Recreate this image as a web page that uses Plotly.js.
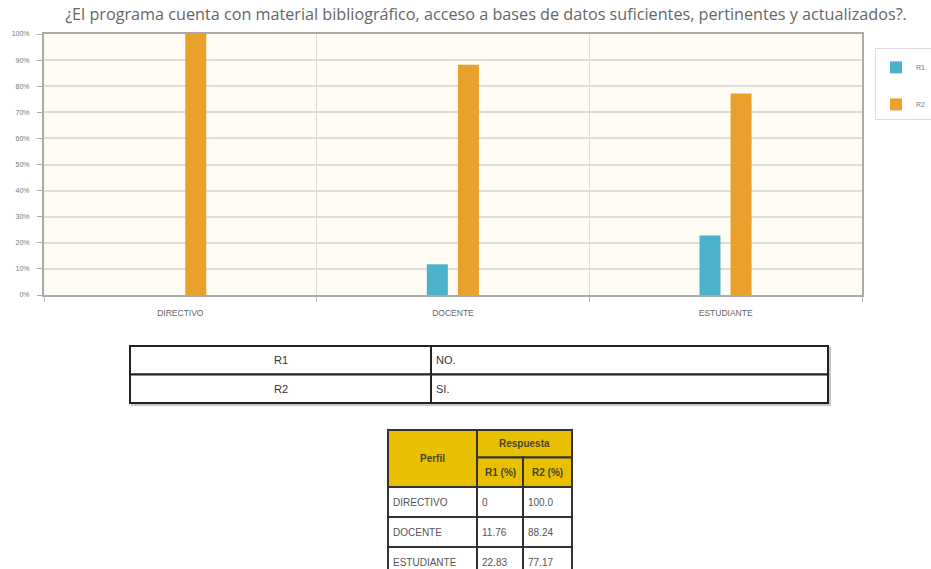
<!DOCTYPE html>
<html>
<head>
<meta charset="utf-8">
<script src="https://cdn.plot.ly/plotly-3.0.1.min.js"></script>
<style>
  html, body { margin: 0; padding: 0; background: #fff; }
  #chart { width: 931px; height: 569px; }
</style>
</head>
<body>
<div id="chart"></div>
<script>
// ---------- data ----------
const chartTitle = '¿El programa cuenta con material bibliográfico, acceso a bases de datos suficientes, pertinentes y actualizados?.';
const categories = ['DIRECTIVO', 'DOCENTE', 'ESTUDIANTE'];
const seriesNames = ['R1', 'R2'];
const r1Values = [0, 11.76, 22.83];
const r2Values = [100.0, 88.24, 77.17];
const r1Labels = ['0', '11.76', '22.83'];
const r2Labels = ['100.0', '88.24', '77.17'];
const codeMeanings = ['NO.', 'SI.'];
const tableHeaders = ['Perfil', 'Respuesta', 'R1 (%)', 'R2 (%)'];

// ---------- helpers (pixel -> paper; paper = plot area) ----------
const W = 931, H = 569;
const M = { l: 44, r: 69, t: 34, b: 274 };
const PW = W - M.l - M.r, PH = H - M.t - M.b;
const px = x => (x - M.l) / PW;
const py = y => (H - M.b - y) / PH;

const shapes = [];
const annotations = [];

function rect(x0, y0, x1, y1, fill, lineColor, lineWidth) {
  shapes.push({
    type: 'rect', xref: 'paper', yref: 'paper',
    x0: px(x0), x1: px(x1), y0: py(y1), y1: py(y0),
    fillcolor: fill, line: { color: lineColor, width: lineWidth }, layer: 'above'
  });
}
function text(str, x, y, anchor, font) {
  annotations.push({
    xref: 'paper', yref: 'paper', x: px(x), y: py(y),
    xanchor: anchor, yanchor: 'middle', showarrow: false, text: str,
    font: font
  });
}

// ---------- code table (R1 = NO., R2 = SI.) ----------
const t1 = { x0: 130, xMid: 431, x1: 828, y0: 346, rowH: 28.5 };
const t1Font = { family: 'Liberation Sans, Arial, sans-serif', size: 11, color: '#333' };
rect(t1.x0 + 2, t1.y0 + 2, t1.x1 + 2, t1.y0 + seriesNames.length * t1.rowH + 2, 'rgba(0,0,0,0)', '#c8c8c8', 2);
seriesNames.forEach((code, i) => {
  const ya = t1.y0 + i * t1.rowH, yb = ya + t1.rowH;
  rect(t1.x0, ya, t1.xMid, yb, '#fff', '#222', 2);
  rect(t1.xMid, ya, t1.x1, yb, '#fff', '#222', 2);
  text(code, (t1.x0 + t1.xMid) / 2, (ya + yb) / 2, 'center', t1Font);
  text(codeMeanings[i], t1.xMid + 3, (ya + yb) / 2, 'left', t1Font);
});

// ---------- data table ----------
const cols = [388, 477, 523, 572];
const hRows = [430, 457.5, 487];
const bodyRowH = 30;
const gold = '#e8c000';
const headFont = { family: 'Liberation Sans, Arial, sans-serif', size: 10, color: '#4a4630' };
const bodyFont = { family: 'Liberation Sans, Arial, sans-serif', size: 10, color: '#555' };
rect(cols[0], hRows[0], cols[1], hRows[2], gold, '#333', 2);
rect(cols[1], hRows[0], cols[3], hRows[1], gold, '#333', 2);
rect(cols[1], hRows[1], cols[2], hRows[2], gold, '#333', 2);
rect(cols[2], hRows[1], cols[3], hRows[2], gold, '#333', 2);
text('<b>' + tableHeaders[0] + '</b>', (cols[0] + cols[1]) / 2, (hRows[0] + hRows[2]) / 2, 'center', headFont);
text('<b>' + tableHeaders[1] + '</b>', (cols[1] + cols[3]) / 2, (hRows[0] + hRows[1]) / 2, 'center', headFont);
text('<b>' + tableHeaders[2] + '</b>', (cols[1] + cols[2]) / 2, (hRows[1] + hRows[2]) / 2, 'center', headFont);
text('<b>' + tableHeaders[3] + '</b>', (cols[2] + cols[3]) / 2, (hRows[1] + hRows[2]) / 2, 'center', headFont);
categories.forEach((cat, i) => {
  const ya = hRows[2] + i * bodyRowH, yb = ya + bodyRowH;
  const vals = [cat, r1Labels[i], r2Labels[i]];
  vals.forEach((v, j) => {
    rect(cols[j], ya, cols[j + 1], yb, '#fff', '#333', 2);
    text(v, cols[j] + 3, (ya + yb) / 2, 'left', bodyFont);
  });
});

// ---------- chart ----------
const barWidth = 0.077;
const traces = [
  {
    type: 'bar', name: seriesNames[0], x: categories, y: r1Values,
    width: barWidth, offset: -0.096, legendgroup: 'a',
    marker: { color: '#4bb3c9' }, hoverinfo: 'x+y'
  },
  {
    type: 'bar', name: seriesNames[1], x: categories, y: r2Values,
    width: barWidth, offset: 0.018, legendgroup: 'b',
    marker: { color: '#e9a12b' }, hoverinfo: 'x+y'
  }
];

const layout = {
  width: W, height: H, autosize: false,
  margin: { l: M.l, r: M.r, t: M.t, b: M.b, pad: 0, autoexpand: false },
  paper_bgcolor: '#ffffff',
  plot_bgcolor: '#fffcf4',
  barmode: 'overlay',
  showlegend: true,
  title: {
    text: chartTitle, x: 486 / W, xanchor: 'center', xref: 'container',
    y: 1 - 14 / H, yanchor: 'middle', yref: 'container',
    font: { family: 'Open Sans, sans-serif', size: 16.2, color: '#666' }
  },
  xaxis: {
    type: 'category', tickson: 'boundaries', showgrid: true,
    gridcolor: '#ddd', gridwidth: 1.5,
    ticks: 'outside', ticklen: 5, tickcolor: '#bbb', tickwidth: 1,
    showline: true, linecolor: '#aaa', linewidth: 2, mirror: true,
    tickfont: { family: 'Liberation Sans, Arial, sans-serif', size: 8.5, color: '#666' },
    ticklabelstandoff: 9, fixedrange: true
  },
  yaxis: {
    range: [0, 100], dtick: 10, ticksuffix: '%',
    showgrid: true, gridcolor: '#ddd', gridwidth: 2,
    ticks: 'outside', ticklen: 5, tickcolor: '#aaa',
    showline: true, linecolor: '#aaa', linewidth: 2, mirror: true,
    zeroline: false,
    tickfont: { family: 'Liberation Sans, Arial, sans-serif', size: 7, color: '#777' },
    ticklabelstandoff: 6, fixedrange: true
  },
  legend: {
    xref: 'container', yref: 'container',
    x: 875 / W, y: 1 - 48 / H, xanchor: 'left', yanchor: 'top',
    bgcolor: '#fff', bordercolor: '#ddd', borderwidth: 1,
    font: { family: 'Liberation Sans, Arial, sans-serif', size: 7, color: '#777' },
    title: { text: ' ', font: { size: 3 } },
    tracegroupgap: 18
  },
  shapes: shapes,
  annotations: annotations
};

Plotly.newPlot('chart', traces, layout, { displayModeBar: false, staticPlot: true });
</script>
</body>
</html>
